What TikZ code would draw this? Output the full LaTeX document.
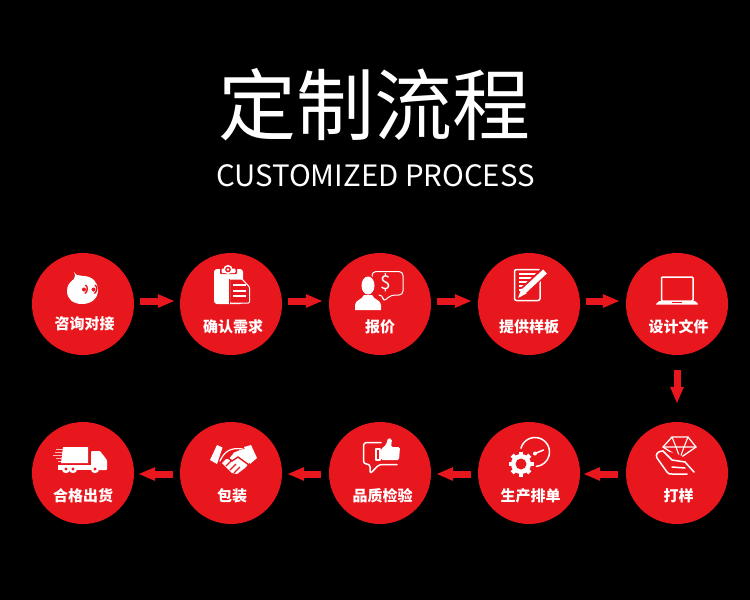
\documentclass[tikz,border=0pt]{standalone}
\usepackage{fontspec}
\newfontfamily\cjk{Noto Sans CJK SC}
\usetikzlibrary{arrows.meta}
\definecolor{stepred}{HTML}{E8161D}
\tikzset{
  stepdisc/.style={circle,fill=stepred,minimum size=102pt,inner sep=0pt},
  steplabel/.style={text=white,inner sep=0pt,font=\cjk\bfseries\fontsize{15}{16}\selectfont},
  flow/.style={-{Triangle[length=17pt,width=12.5pt]},line width=7pt,draw=stepred,shorten <=6pt,shorten >=5pt},
  iconline/.style={draw=white,line width=1.5pt,line cap=round,line join=round},
  iconcut/.style={draw=stepred,line width=1.1pt},
}
\begin{document}
\begin{tikzpicture}[x=1pt,y=-1pt]
  \fill[black] (0,0) rectangle (750,600);
  \node[text=white,inner sep=0pt,font=\cjk\fontsize{78}{80}\selectfont] (title) at (374,105) {定制流程};
  \node[text=white,inner sep=0pt,font=\cjk\fontsize{29.4}{32}\selectfont] (subtitle) at (375.5,176) {CUSTOMIZED PROCESS};

  % top row
  \node[stepdisc] (consult) at (83,304) {};
  \node[stepdisc] (confirm) at (231,304) {};
  \node[stepdisc] (quote) at (380,304) {};
  \node[stepdisc] (sample) at (529,304) {};
  \node[stepdisc] (design) at (677,304) {};
  % bottom row
  \node[stepdisc] (ship) at (83,473) {};
  \node[stepdisc] (pack) at (231,473) {};
  \node[stepdisc] (inspect) at (380,473) {};
  \node[stepdisc] (plan) at (529,473) {};
  \node[stepdisc] (proof) at (677,473) {};

  \node[steplabel] (consultlabel) at (84.5,324) {咨询对接};
  \node[steplabel] (confirmlabel) at (233,327) {确认需求};
  \node[steplabel] (quotelabel) at (380,327) {报价};
  \node[steplabel] (samplelabel) at (529,327) {提供样板};
  \node[steplabel] (designlabel) at (678.5,327) {设计文件};
  \node[steplabel] (shiplabel) at (83,496) {合格出货};
  \node[steplabel] (packlabel) at (232,496) {包装};
  \node[steplabel] (inspectlabel) at (382.5,496) {品质检验};
  \node[steplabel] (planlabel) at (530.5,496) {生产排单};
  \node[steplabel] (prooflabel) at (678.5,496) {打样};

  \draw[flow] ([yshift=3pt]consult.east) -- ([yshift=3pt]confirm.west);
  \draw[flow,shorten >=6pt] ([yshift=3pt]confirm.east) -- ([yshift=3pt]quote.west);
  \draw[flow,shorten >=6pt] ([yshift=3pt]quote.east) -- ([yshift=3pt]sample.west);
  \draw[flow,shorten >=6pt] ([yshift=3pt]sample.east) -- ([yshift=3pt]design.west);
  \draw[flow,shorten <=15pt,shorten >=18pt] (design.south) -- (proof.north);
  \draw[flow,shorten <=8pt,shorten >=3pt] ([yshift=-1pt]proof.west) -- ([yshift=-1pt]plan.east);
  \draw[flow,shorten <=7pt,shorten >=5pt] ([yshift=-1pt]plan.west) -- ([yshift=-1pt]inspect.east);
  \draw[flow,shorten <=8pt,shorten >=5pt] ([yshift=-1pt]inspect.west) -- ([yshift=-1pt]pack.east);
  \draw[flow,shorten <=7pt,shorten >=4pt] ([yshift=-1pt]pack.west) -- ([yshift=-1pt]ship.east);

  % chat blob
  \fill[white] (74,272) .. controls (76,276) and (79,275) .. (83,276) .. controls (93,276) and (98,283) .. (98,290)
    .. controls (98,299) and (91,304) .. (82,304) .. controls (73,304) and (67,299) .. (67,291) .. controls (67,285) and (70,282) .. (74,279)
    .. controls (76,277) and (75,274) .. (74,272) -- cycle;
  \draw[stepred,line width=1.4pt] (85.5,285) .. controls (88,287) and (88,291) .. (85,293.5);
  \draw[stepred,line width=1.4pt] (95,285) .. controls (97.5,287) and (97.5,291) .. (94.5,293.5);
  \fill[stepred] (84,289.5) circle (2) (93.5,289.5) circle (2);

  % clipboard
  \fill[white,rounded corners=3pt] (214,269) rectangle (243,304);
  \fill[stepred,rounded corners=1pt] (220,267.5) rectangle (237,274);
  \fill[white,rounded corners=1pt] (221.5,268.5) rectangle (235.5,273);
  \draw[white,fill=stepred,line width=1.5pt] (228,269.5) circle (3.8);
  \fill[white] (228,269.5) circle (1.4);
  \draw[draw=white,fill=stepred,line width=1pt,rounded corners=1pt] (229.5,279) -- (242,279) -- (249.5,287) -- (249.5,303) -- (229.5,303) -- cycle;
  \foreach \y in {285,291,296} \draw[white,line width=1.6pt] (233,\y) -- (246,\y);
  \draw[stepred,line width=1.2pt] (229.5,279) -- (229.5,303.5);

  % person and speech bubble
  \draw[iconline,line width=1pt,rounded corners=4pt] (372,278) -- (372,271.5) -- (403,271.5) -- (403,295) -- (391,295) -- (383,302) -- (383,295) -- (379,295);
  \node[text=white,inner sep=0pt,font=\cjk\fontsize{19}{20}\selectfont] (dollar) at (386,282.5) {\$};
  \fill[stepred] (368,285.5) ellipse (8 and 10.5);
  \fill[white] (368,285.5) ellipse (6.5 and 9);
  \fill[white] (355,310) -- (355,305) .. controls (355,300) and (362,300) .. (364,295) -- (372,295)
    .. controls (374,300) and (381,300) .. (381,305) -- (381,310) -- cycle;

  % document and pen
  \draw[iconline,rounded corners=2pt] (514.5,269.5) rectangle (540,300.5);
  \foreach \y/\e in {274/537,278/535,282/531,286/527,290/523} \draw[white,line width=1.2pt] (519,\y) -- (\e,\y);
  \draw[stepred,line width=9pt] (546,270) -- (524,291);
  \draw[white,line width=5.5pt] (545,271.5) -- (524,291);
  \fill[white] (526.5,293.5) -- (521.5,288.5) -- (518,298) -- cycle;

  % laptop
  \draw[iconline,rounded corners=1pt] (661.5,277) rectangle (693,301);
  \fill[white,rounded corners=0.8pt] (659,301) -- (695,301) -- (698.5,304.5) -- (655.5,304.5) -- cycle;
  \fill[stepred] (672,302) rectangle (682,303.3);

  % truck
  \foreach \y/\a in {449/56,452/55,455/53,458/56,461/58} \draw[white!70!stepred,line width=0.8pt] (\a,\y) -- (63,\y);
  \fill[white] (63,447) -- (88,447) -- (88,463) -- (61,463) -- cycle;
  \fill[white,rounded corners=1pt] (91,451) -- (100,451) -- (107,460) -- (107,470) -- (91,470) -- cycle;
  \fill[white] (58,465) rectangle (100,470);
  \foreach \x in {66,73,95} {\fill[white] (\x,469) circle (4.2); \fill[stepred] (\x,469) circle (1.6);}

  % handshake
  \fill[white] (217,445) -- (222.5,447.5) -- (217,464) -- (210,460) -- cycle;
  \fill[white] (251,445) -- (257,458) -- (250,464) -- (244,447) -- cycle;
  \draw[iconline,line width=1.2pt] (220,461) .. controls (224,452) and (230,447) .. (243,449);
  \fill[white] (233,453) -- (240,450) -- (245,449) -- (251,461) -- (245,468) -- (237,474) -- (232,473) -- (222,463) -- (226,459) -- (229,459) -- cycle;
  \draw[iconcut,line width=1.4pt] (233,453) -- (228,458) -- (232,461) -- (238,457) -- (249,465);
  \foreach \x/\y in {226/466,230/470,234/473} \draw[iconcut] (\x,\y) -- (\x+6,\y-6);

  % thumb up
  \draw[iconline,rounded corners=3pt] (381,442.5) -- (363.5,442.5) -- (363.5,464) -- (370,464) -- (370,474) -- (379,464.5) -- (397,464.5);
  \draw[iconline,line width=1.2pt] (376,449) rectangle (380,460);
  \fill[white,rounded corners=1.5pt] (381,449) -- (386,445) -- (388,438) -- (392,439) -- (391,447) -- (400,447) -- (399,460) -- (381,460) -- cycle;

  % gear and gauge
  \draw[iconline] (535,452) ++(-165:14.5) arc[start angle=-165,end angle=85,radius=14.5];
  \draw[iconline] (535,453.5) -- (543.5,450);
  \fill[white] (535,453.5) circle (2);
  \foreach \a in {0,45,...,315} \draw[white,line width=4.5pt] (521,464) -- ++(\a:12.5);
  \fill[white] (521,464) circle (10);
  \fill[stepred] (521,464) circle (5.5);

  % diamond and hand
  \draw[iconline,line width=1.3pt] (672,437) -- (688,437) -- (696,447) -- (680,458) -- (663,447) -- cycle;
  \draw[iconline,line width=1.1pt] (663,447) -- (696,447) (672,437) -- (676,447) -- (680,458) (688,437) -- (684,447) -- (680,458);
  \fill[stepred] (666,451.5) -- (672,462) -- (686,463) -- (682,456) -- (675,453) -- cycle;
  \draw[iconline] (663,451) .. controls (658,451) and (655,454) .. (657,458) -- (667,472) .. controls (668,474) and (670,474) .. (672,474) -- (687,474);
  \draw[iconline] (663,451) -- (672,460) -- (685,462) -- (694,472);
  \draw[iconline] (672,467) -- (685,468);
\end{tikzpicture}
\end{document}
